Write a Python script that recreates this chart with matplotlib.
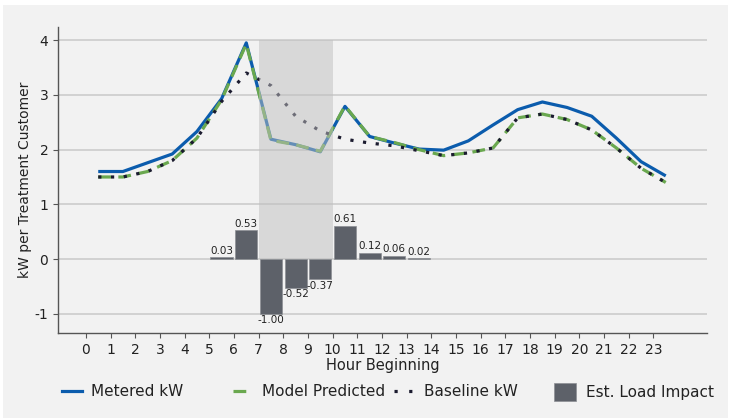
import matplotlib
matplotlib.use("Agg")
import matplotlib.pyplot as plt
from matplotlib.lines import Line2D
from matplotlib.patches import Patch, Rectangle

plt.rcParams["font.family"] = ["DejaVu Sans"]
plt.rcParams["axes.unicode_minus"] = False

# Hourly load profile (values at the middle of each hour)
hours = list(range(24))
metered_kw = [1.60, 1.60, 1.76, 1.92, 2.33, 2.93, 3.95, 2.19, 2.09, 1.96, 2.79, 2.24,
              2.12, 2.01, 1.99, 2.16, 2.45, 2.73, 2.87, 2.77, 2.61, 2.21, 1.78, 1.52]
predicted_kw = [1.50, 1.50, 1.60, 1.80, 2.21, 2.91, 3.93, 2.17, 2.09, 1.97, 2.80, 2.24,
                2.13, 2.00, 1.89, 1.94, 2.03, 2.58, 2.65, 2.55, 2.36, 2.03, 1.66, 1.40]
baseline_kw = [1.50, 1.50, 1.60, 1.80, 2.21, 2.88, 3.40, 3.17, 2.61, 2.34, 2.19, 2.12,
               2.07, 1.98, 1.89, 1.94, 2.03, 2.58, 2.65, 2.55, 2.36, 2.03, 1.66, 1.40]

# Estimated load impact per hour
impact_hours = [5, 6, 7, 8, 9, 10, 11, 12, 13]
impact_kw = [0.03, 0.53, -1.00, -0.52, -0.37, 0.61, 0.12, 0.06, 0.02]

# Event window (hour beginning)
event_start, event_end = 7, 10

BG = "#f2f2f2"
BLUE = "#0b5cad"
GREEN = "#6aa84f"
DOT = "#1b1b2f"
BAR = "#5d6169"

fig = plt.figure(figsize=(7.34, 4.18), dpi=100, facecolor="white")
fig.patches.append(Rectangle((3 / 734, 0), 725 / 734, 413 / 418,
                             transform=fig.transFigure, facecolor=BG,
                             edgecolor="none", zorder=-10))

ax = fig.add_axes([58 / 734, 1 - 333 / 418, (706.7 - 58) / 734, (333 - 27) / 418])
ax.set_facecolor(BG)

xm = [h + 0.5 for h in hours]
xb = [h + 0.5 for h in impact_hours]

bars = ax.bar(xb, impact_kw, width=0.9, color=BAR, edgecolor="#8c8f94",
              linewidth=0.5, zorder=2)
for x, v in zip(xb, impact_kw):
    ax.annotate(f"{v:.2f}", (x, v), xytext=(0, 1 if v >= 0 else -1),
                textcoords="offset points", ha="center",
                va="bottom" if v >= 0 else "top", fontsize=7.5, color="#222222",
                zorder=6)

ax.plot(xm, metered_kw, color=BLUE, lw=2.3, zorder=3, solid_capstyle="butt")
ax.plot(xm, predicted_kw, color=GREEN, lw=2.3, dashes=(4, 2.3), zorder=4)
ax.plot(xm, baseline_kw, color=DOT, lw=2.3, dashes=(1, 3), zorder=5)

# Event period shading over the positive range
ax.fill_between([event_start, event_end], 0, 4, color="#c0c0c0", alpha=0.5,
                linewidth=0, zorder=5.5)

ax.set_xlim(-1.13, 25.16)
ax.set_ylim(-1.35, 4.24)
ax.set_xticks(hours)
ax.set_yticks([-1, 0, 1, 2, 3, 4])
ax.yaxis.grid(True, color="#cccccc", lw=1.2, zorder=0)
ax.set_axisbelow(True)
for s in ("top", "right"):
    ax.spines[s].set_visible(False)
for s in ("left", "bottom"):
    ax.spines[s].set_color("#555555")
    ax.spines[s].set_linewidth(1.0)
ax.tick_params(axis="both", labelsize=10, colors="#555555", labelcolor="#222222")
ax.set_xlabel("Hour Beginning", fontsize=10.5, color="#222222", labelpad=1)
ax.set_ylabel("kW per Treatment Customer", fontsize=10, color="#222222", labelpad=2)

# Legend entries along the bottom
legend_items = [
    (Line2D([], [], color=BLUE, lw=2.3), "Metered kW", 61.7, 1.31, 0.7),
    (Line2D([], [], color=GREEN, lw=2.3, dashes=(4, 2.3)), "Model Predicted", 232.7, 1.31, 0.7),
    (Line2D([], [], color=DOT, lw=2.3, dashes=(1, 3.6)), "Baseline kW", 394, 1.31, 0.7),
    (Patch(facecolor=BAR, edgecolor="#8c8f94", linewidth=0.5), "Est. Load Impact", 554, 1.44, 1.44),
]
for handle, label, xpix, hl, hh in legend_items:
    fig.legend(handles=[handle], labels=[label], loc="center left",
               bbox_to_anchor=(xpix / 734, 1 - 392 / 418), frameon=False,
               fontsize=11, handlelength=hl, handleheight=hh,
               handletextpad=0.64, borderpad=0, borderaxespad=0,
               labelcolor="#222222")

fig.savefig("out.png", dpi=100, facecolor=fig.get_facecolor())
